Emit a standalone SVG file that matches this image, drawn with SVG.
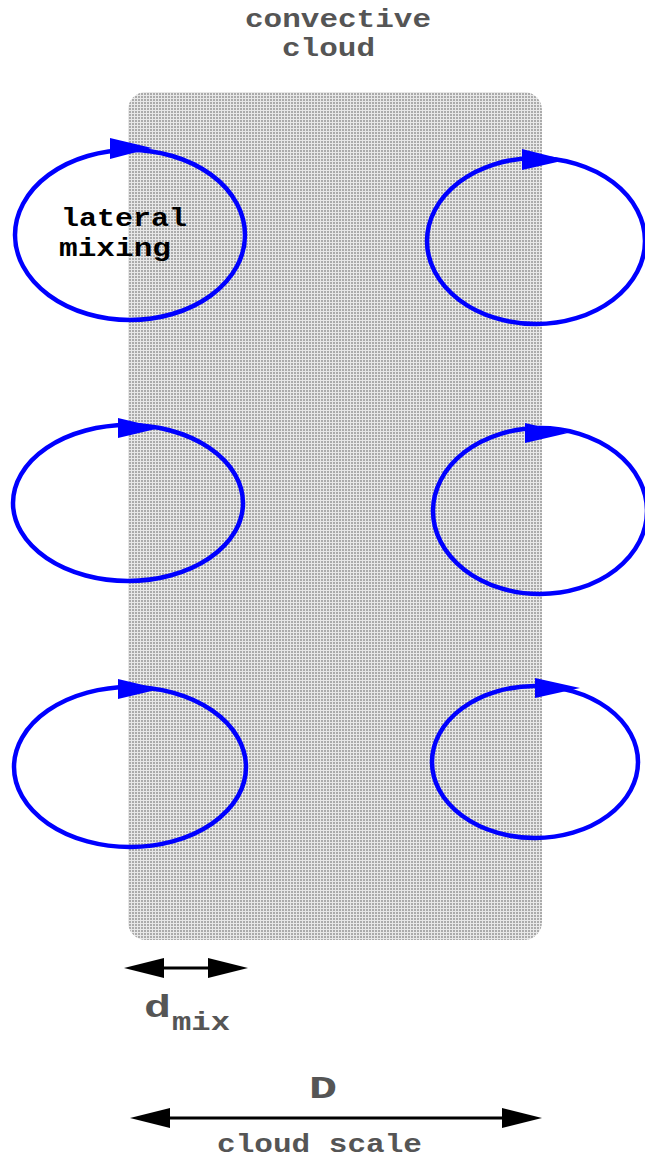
<svg xmlns="http://www.w3.org/2000/svg" width="645" height="1160" viewBox="0 0 645 1160">
<style>
.t{font-family:"Liberation Mono","DejaVu Sans Mono",monospace;font-weight:bold;font-size:26px}
.g{fill:#555555}
.k{fill:#000000}
.loop{fill:none;stroke:#0000ff;stroke-width:4.5}
.ah{fill:#0000ff}
.dim{stroke:#000;stroke-width:3;fill:none}
.dh{fill:#000}
</style>
<defs>
<pattern id="dots" width="3" height="3" patternUnits="userSpaceOnUse">
<rect width="3" height="3" fill="#e8e8e8"/>
<rect x="0" y="0" width="2" height="2" fill="#ababab"/>
</pattern>
</defs>
<rect width="645" height="1160" fill="#ffffff"/>
<g id="cloud">
<rect x="128" y="92" width="414" height="848" rx="18" fill="url(#dots)"/>
</g>
<g id="title">
<text class="t g" x="245" y="27" textLength="186" lengthAdjust="spacingAndGlyphs">convective</text>
<text class="t g" x="282" y="56" textLength="93" lengthAdjust="spacingAndGlyphs">cloud</text>
</g>
<g id="loop-tl">
<ellipse class="loop" cx="130" cy="235" rx="115" ry="85"/>
<polygon class="ah" points="110,138 152,148 110,159"/>
<text class="t k" x="61" y="226" textLength="126" lengthAdjust="spacingAndGlyphs">lateral</text>
<text class="t k" x="59" y="256" textLength="112" lengthAdjust="spacingAndGlyphs">mixing</text>
</g>
<g id="loop-tr">
<ellipse class="loop" cx="536" cy="241" rx="109" ry="83"/>
<polygon class="ah" points="522,149 566,160 522,170"/>
</g>
<g id="loop-ml">
<ellipse class="loop" cx="128" cy="503" rx="115" ry="78"/>
<polygon class="ah" points="118,418 160,428 118,438"/>
</g>
<g id="loop-mr">
<ellipse class="loop" cx="540" cy="511" rx="107" ry="83"/>
<polygon class="ah" points="525,423 568,433 525,443"/>
</g>
<g id="loop-bl">
<ellipse class="loop" cx="130" cy="767" rx="116" ry="80"/>
<polygon class="ah" points="118,679 160,689 118,699"/>
</g>
<g id="loop-br">
<ellipse class="loop" cx="535" cy="762" rx="103" ry="76"/>
<polygon class="ah" points="535,678 580,688 535,698"/>
</g>
<g id="connectors">
<line class="dim" x1="160" y1="968" x2="212" y2="968"/>
<polygon class="dh" points="124,968 164,958 164,978"/>
<polygon class="dh" points="248,968 208,958 208,978"/>
<line class="dim" x1="165" y1="1118" x2="507" y2="1118"/>
<polygon class="dh" points="130,1118 170,1108 170,1128"/>
<polygon class="dh" points="542,1118 502,1108 502,1128"/>
</g>
<g id="labels">
<text class="t g" x="144" y="1017" style="font-size:32px" textLength="27" lengthAdjust="spacingAndGlyphs">d</text>
<text class="t g" x="172" y="1030" textLength="58" lengthAdjust="spacingAndGlyphs">mix</text>
<text class="t g" x="309" y="1098" style="font-size:32px" textLength="28" lengthAdjust="spacingAndGlyphs">D</text>
<text class="t g" x="217" y="1152" textLength="205" lengthAdjust="spacingAndGlyphs">cloud scale</text>
</g>
</svg>
